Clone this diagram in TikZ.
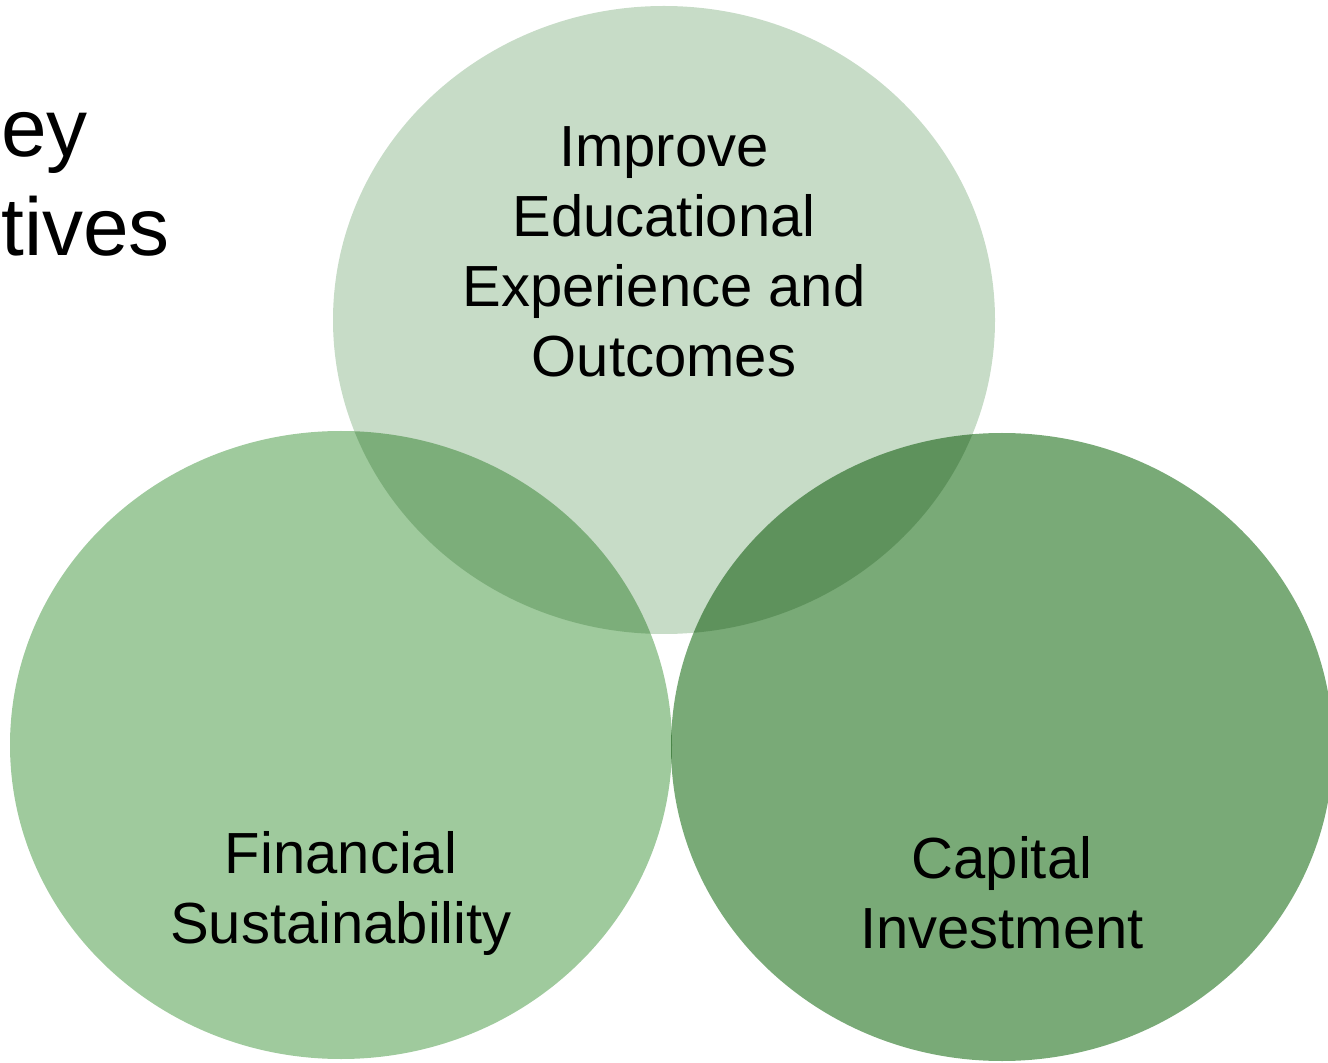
\documentclass[tikz,border=0pt]{standalone}
\usepackage{fontspec}
\setmainfont{Liberation Sans}
\usetikzlibrary{shapes.geometric}
\definecolor{topgreen}{HTML}{C7DCC7}
\definecolor{leftgreen}{HTML}{9FCA9D}
\definecolor{rightgreen}{HTML}{79AA77}

\begin{document}
\begin{tikzpicture}[x=0.5pt,y=-0.5pt,
    cnode/.style={ellipse,minimum width=331pt,minimum height=314pt,inner sep=0pt},
    ctext/.style={align=center,inner sep=0pt,font=\fontsize{29}{35}\selectfont}]
    \useasboundingbox (0,0) rectangle (1328,1063);
    \begin{scope}[blend group=multiply]
        \node[cnode,fill=topgreen] (edu) at (664,320) {};
        \node[cnode,fill=leftgreen] (fin) at (341,745) {};
        \node[cnode,fill=rightgreen] (cap) at (1002,747) {};
    \end{scope}

    \node[ctext] (edut) at (664,252) {Improve\\Educational\\Experience and\\Outcomes};
    \node[ctext] (fint) at (341,894) {Financial\\Sustainability};
    \node[ctext] (capt) at (1002,893) {Capital\\Investment};
    \node[align=left,anchor=west,inner sep=0pt,font=\fontsize{41}{49.5}\selectfont] (title) at (1,184) {ey\\tives};
\end{tikzpicture}
\end{document}
